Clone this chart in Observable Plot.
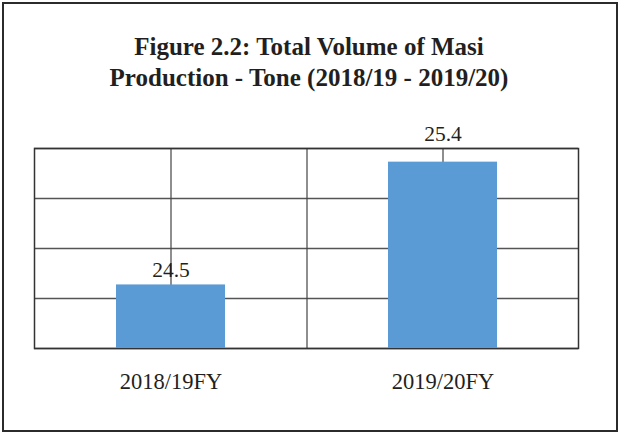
<!DOCTYPE html>
<html>
<head>
<meta charset="utf-8">
<script src="https://cdn.jsdelivr.net/npm/d3@7"></script>
<script src="https://cdn.jsdelivr.net/npm/@observablehq/plot@0.6"></script>
<style>
  html, body { margin: 0; padding: 0; background: #fff; }
  body { width: 618px; height: 432px; position: relative; overflow: hidden; }
  #box { position: absolute; left: 2px; top: 2px; width: 612px; height: 426px; border: 2px solid #2b2b2b; }
  #title { position: absolute; left: 0; top: 31px; width: 618px; text-align: center;
    font-family: "Liberation Serif", Tinos, "Times New Roman", "DejaVu Serif", serif; font-weight: bold; font-size: 25px; line-height: 31px; color: #231f20; }
  #chart { position: absolute; left: 0; top: 110px; }
</style>
</head>
<body>
<div id="box"></div>
<div id="title">Figure 2.2: Total Volume of Masi<br>Production - Tone (2018/19 - 2019/20)</div>
<div id="chart"></div>
<script>
const categories = ["2018/19FY", "2019/20FY"];
const values = [24.5, 25.4];
const valueLabels = ["24.5", "25.4"];
const yDomain = [24.034, 25.5];

const data = categories.map((c, i) => ({cat: c, value: values[i], label: valueLabels[i]}));

const serif = "'Liberation Serif', Tinos, 'Times New Roman', 'DejaVu Serif', serif";
const width = 618, height = 300;
const marginLeft = 34, marginRight = 40, marginTop = 38, marginBottom = 62;
const halfStep = (width - marginLeft - marginRight) / categories.length / 2;
const yTicks = d3.range(5).map(i => yDomain[0] + i * (yDomain[1] - yDomain[0]) / 4);
const ink = "#231f20";

const chart = Plot.plot({
  width, height, marginLeft, marginRight, marginTop, marginBottom,
  style: {fontFamily: serif, color: ink, background: "transparent"},
  x: {domain: categories, paddingInner: 0.6, paddingOuter: 0.3, label: null},
  y: {domain: yDomain, label: null},
  marks: [
    Plot.ruleY(yTicks, {stroke: "#555", strokeWidth: 1.3}),
    Plot.ruleX(categories, {x: d => d, y1: yDomain[0], y2: yDomain[1], insetTop: -2, stroke: "#444", strokeWidth: 1.2}),
    Plot.ruleX(categories.slice(0, -1), {x: d => d, dx: halfStep, stroke: "#444", strokeWidth: 1.2}),
    Plot.frame({stroke: "#333", strokeWidth: 1.5}),
    Plot.barY(data, {x: "cat", y1: yDomain[0], y2: "value", fill: "#5b9bd5"}),
    Plot.text(data.slice(0, 1), {x: "cat", y: "value", text: "label", dy: -15, fontSize: 21.5, fill: ink, fontFamily: serif}),
    Plot.text(data.slice(1), {x: "cat", y: "value", text: "label", dy: -28, fontSize: 21.5, fill: ink, fontFamily: serif}),
    Plot.axisX({tickSize: 0, tickPadding: 25, fontSize: 22.5, fill: ink, fontFamily: serif, label: null}),
    Plot.axisY({ticks: [], label: null})
  ]
});
document.getElementById("chart").appendChild(chart);
</script>
</body>
</html>
